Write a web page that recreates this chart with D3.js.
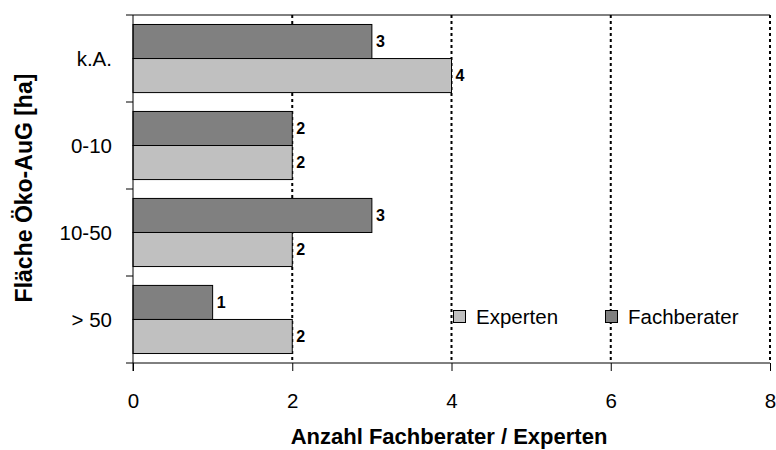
<!DOCTYPE html>
<html>
<head>
<meta charset="utf-8">
<script src="https://cdn.jsdelivr.net/npm/d3@7"></script>
<style>
  html, body { margin: 0; padding: 0; background: #fff; }
  svg { display: block; font-family: "Liberation Sans", Arial, sans-serif; }
</style>
</head>
<body>
<svg id="chart" width="776" height="450"></svg>
<script>
// Area classes (top to bottom)
const categories = ["k.A.", "0-10", "10-50", "> 50"];
// Series drawn within each class: Fachberater above, Experten below
const seriesNames = ["Fachberater", "Experten"];
const fachberater = [3, 2, 3, 1];
const experten = [4, 2, 2, 2];
const xTicks = [0, 2, 4, 6, 8];
const legendOrder = ["Experten", "Fachberater"];

const colors = { Fachberater: "#808080", Experten: "#c0c0c0" };
const valuesBySeries = { Fachberater: fachberater, Experten: experten };

const svg = d3.select("#chart");
const margin = { left: 133, right: 6, top: 15, bottom: 87 };
const W = 776, H = 450;
const iw = W - margin.left - margin.right;
const ih = H - margin.top - margin.bottom;

const g = svg.append("g").attr("transform", `translate(${margin.left},${margin.top})`);

const x = d3.scaleLinear().domain([0, 8]).range([0, iw]);
const y = d3.scaleBand().domain(categories).range([0, ih]).paddingInner(0.217).paddingOuter(0.109);
const ySub = d3.scaleBand().domain(seriesNames).range([0, y.bandwidth()]);

// Top border of the plot area
g.append("line").attr("x1", 0).attr("x2", iw).attr("y1", 0).attr("y2", 0)
  .attr("stroke", "#000").attr("stroke-width", 1);

// Dotted vertical gridlines
g.append("g").selectAll("line").data(xTicks.filter(d => d > 0)).join("line")
  .attr("x1", d => x(d)).attr("x2", d => x(d))
  .attr("y1", 0).attr("y2", ih)
  .attr("stroke", "#000").attr("stroke-width", 2)
  .attr("stroke-dasharray", "3,3");

// Bars
const rows = [];
categories.forEach((c, i) => seriesNames.forEach(s => rows.push({ cat: c, series: s, value: valuesBySeries[s][i] })));

g.append("g").selectAll("rect").data(rows).join("rect")
  .attr("x", x(0))
  .attr("y", d => y(d.cat) + ySub(d.series))
  .attr("width", d => x(d.value) - x(0))
  .attr("height", ySub.bandwidth())
  .attr("fill", d => colors[d.series])
  .attr("stroke", "#000").attr("stroke-width", 1);

// Value labels
g.append("g").selectAll("text").data(rows).join("text")
  .attr("x", d => x(d.value) + 4)
  .attr("y", d => y(d.cat) + ySub(d.series) + ySub.bandwidth() / 2)
  .attr("dy", "0.36em")
  .attr("font-size", 16).attr("font-weight", "bold")
  .text(d => d.value);

// Axes
const xAxis = g.append("g").attr("transform", `translate(0,${ih})`)
  .call(d3.axisBottom(x).tickValues(xTicks).tickSize(8).tickPadding(22));
xAxis.selectAll("text").attr("font-size", 20.5).attr("fill", "#000")
  .attr("font-family", "'Liberation Sans', Arial, sans-serif");
xAxis.select(".domain").attr("d", `M0,0H${iw}`);

// Category separators on the y axis
const sepValues = d3.range(categories.length + 1).map(i => i * ih / categories.length);
const yAxis = g.append("g");
yAxis.append("line").attr("x1", 0).attr("x2", 0).attr("y1", 0).attr("y2", ih + 8).attr("stroke", "#000");
yAxis.selectAll(".sep").data(sepValues).join("line").attr("class", "sep")
  .attr("x1", -7).attr("x2", 0).attr("y1", d => d).attr("y2", d => d).attr("stroke", "#000");
yAxis.selectAll(".cat").data(categories).join("text").attr("class", "cat")
  .attr("x", -21)
  .attr("y", d => y(d) + y.bandwidth() / 2)
  .attr("dy", "0.36em")
  .attr("text-anchor", "end")
  .attr("font-size", 20.5)
  .text(d => d);

// Axis titles
svg.append("text")
  .attr("x", 449).attr("y", 444)
  .attr("text-anchor", "middle").attr("font-size", 22).attr("font-weight", "bold")
  .text("Anzahl Fachberater / Experten");

svg.append("text")
  .attr("transform", `translate(32,188) rotate(-90)`)
  .attr("text-anchor", "middle").attr("font-size", 23).attr("font-weight", "bold")
  .text("Fläche Öko-AuG [ha]");

// Legend
const legend = svg.append("g").attr("transform", "translate(453.5,310.5)");
const li = legend.selectAll("g").data(legendOrder).join("g")
  .attr("transform", (d, i) => `translate(${i * 152},0)`);
li.append("rect").attr("width", 12).attr("height", 12)
  .attr("fill", d => colors[d]).attr("stroke", "#000");
li.append("text").attr("x", 22.5).attr("y", 6).attr("dy", "0.36em")
  .attr("font-size", 20.5).text(d => d);
</script>
</body>
</html>
